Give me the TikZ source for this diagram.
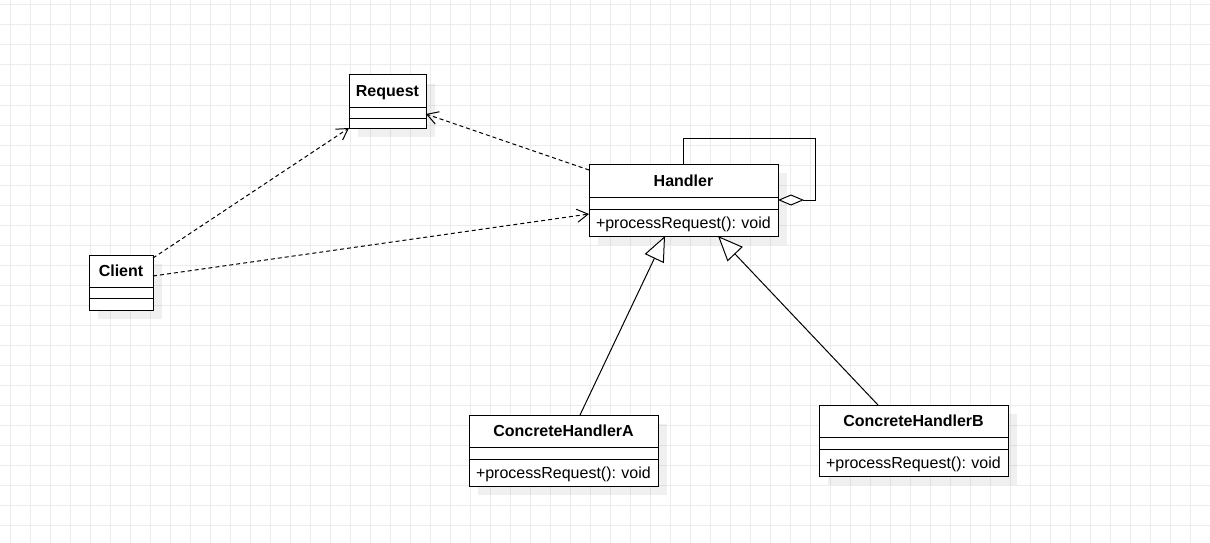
\documentclass[tikz,border=0pt]{standalone}
\usepackage{fontspec}
\setmainfont{Liberation Sans}
\usetikzlibrary{arrows.meta, positioning, calc, shadows}
\frenchspacing

\begin{document}
\begin{tikzpicture}[
  x=1pt, y=-1pt,
  box/.style={draw, fill=white, line width=1pt, outer sep=0pt, inner sep=0pt,
    drop shadow={shadow xshift=9pt, shadow yshift=-9pt, opacity=0.06, fill=black}},
  namebox/.style={box, font=\fontsize{16}{19}\selectfont\bfseries, minimum height=32pt, text depth=0pt},
  fieldbox/.style={box, minimum height=12pt},
  methodbox/.style={box, font=\fontsize{16}{19}\selectfont, minimum height=27pt, text depth=0pt,
    inner xsep=7pt, text width=175pt, align=left},
  dep/.style={-{Straight Barb[length=11pt, width=13pt]}, dash pattern=on 4pt off 3pt, line width=1pt},
  inherit/.style={-{Triangle[open, fill=white, length=25pt, width=21pt]}, line width=1pt},
  aggr/.style={-{Diamond[open, fill=white, length=26pt, width=11pt]}, line width=1pt},
  gridline/.style={gray!15, line width=1pt}
]
\useasboundingbox (0,0) rectangle (1210,543);
\fill[white] (0,0) rectangle (1210,543);
% background grid
\foreach \x in {10,30,...,1210} \draw[gridline] (\x,0) -- (\x,543);
\foreach \y in {5,25,...,543} \draw[gridline] (0,\y) -- (1210,\y);

% classes
\node[namebox, minimum width=77pt] (request) at (387.5,91) {Request};
\node[fieldbox, minimum width=77pt, minimum height=11pt, below=0pt of request] (request-f1) {};
\node[fieldbox, minimum width=77pt, minimum height=10pt, below=0pt of request-f1] (request-f2) {};

\node[namebox, minimum width=64pt] (client) at (121,271) {Client};
\node[fieldbox, minimum width=64pt, minimum height=11pt, below=0pt of client] (client-f1) {};
\node[fieldbox, minimum width=64pt, below=0pt of client-f1] (client-f2) {};

\node[namebox, minimum width=189pt, minimum height=33pt] (handler) at (683.5,180.5) {Handler};
\node[fieldbox, minimum width=189pt, below=0pt of handler] (handler-f) {};
\node[methodbox, below=0pt of handler-f] (handler-m) {\mbox{+processRequest(): void}};

\node[namebox, minimum width=189pt] (cha) at (563.5,431) {ConcreteHandlerA};
\node[fieldbox, minimum width=189pt, below=0pt of cha] (cha-f) {};
\node[methodbox, below=0pt of cha-f] (cha-m) {\mbox{+processRequest(): void}};

\node[namebox, minimum width=189pt] (chb) at (913.5,421) {ConcreteHandlerB};
\node[fieldbox, minimum width=189pt, below=0pt of chb] (chb-f) {};
\node[methodbox, below=0pt of chb-f] (chb-m) {\mbox{+processRequest(): void}};

% relations
\draw[dep] ($(client.north east)+(0,3)$) -- (request-f2.south west);
\draw[dep] ($(handler.north west)+(0,6)$) -- ($(request-f1.south east)+(0,-4)$);
\draw[dep] ($(client.east)+(0,5)$) -- ($(handler-m.north west)+(0,5)$);
\draw[inherit] ($(cha.north)+(16.5,0)$) -- ($(handler-m.south)+(-18.5,0)$);
\draw[inherit] ($(chb.north)+(-35.5,0)$) -- ($(handler-m.south)+(34.5,0)$);
\draw[aggr] (handler.north) -- ++(0,-26) -| ($(handler.south east)+(37,3)$)
  -- ($(handler.south east)+(0,3)$);
\end{tikzpicture}
\end{document}
